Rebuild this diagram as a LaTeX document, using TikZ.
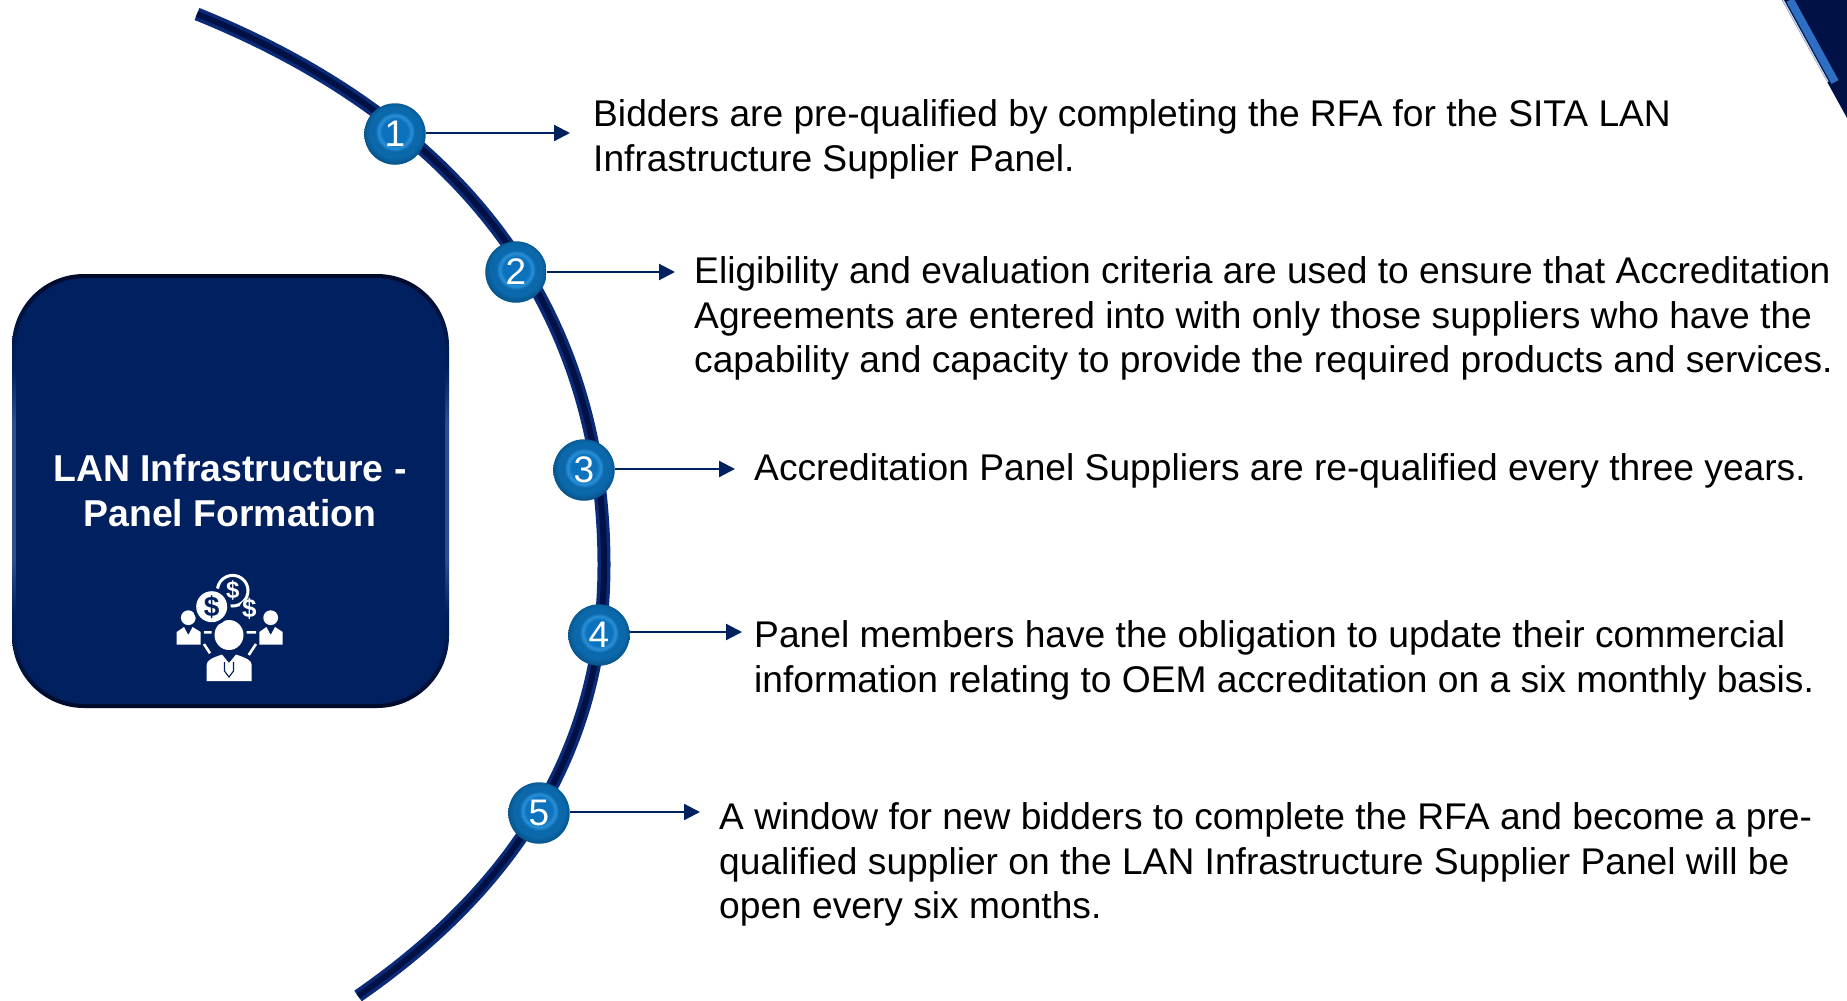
\documentclass[tikz,border=0pt]{standalone}
\usepackage{fontspec}
\setmainfont{Liberation Sans}
\usetikzlibrary{arrows.meta,calc}
\definecolor{navy}{HTML}{002060}
\definecolor{arcblue}{HTML}{0B2A78}
\definecolor{arcdark}{HTML}{001245}
\definecolor{ba}{HTML}{0C72BE}
\definecolor{bb}{HTML}{2A90D8}
\definecolor{bc}{HTML}{0A68AB}
\definecolor{bd}{HTML}{075388}
\definecolor{be}{HTML}{064A7A}
\definecolor{ea}{HTML}{000A2A}
\definecolor{ed}{HTML}{2E4D90}
\definecolor{cornerblue}{HTML}{2E6FC4}
\definecolor{cornerpale}{HTML}{C4D8F0}
\pgfdeclareradialshading{ballshade}{\pgfpoint{0bp}{2.5bp}}{
  color(0bp)=(ba);
  color(10.5bp)=(ba);
  color(13.5bp)=(bb);
  color(16bp)=(bc);
  color(21bp)=(bc);
  color(26bp)=(bd);
  color(50bp)=(be)}
\pgfdeclareverticalshading{bevelshade}{100bp}{
  color(0bp)=(ea);
  color(25bp)=(ea);
  color(36bp)=(navy);
  color(42bp)=(ed);
  color(58bp)=(ed);
  color(64bp)=(navy);
  color(75bp)=(ea);
  color(100bp)=(ea)}
\tikzset{
  x=1pt,y=-1pt,
  ball/.style={circle,minimum size=61.5pt,inner sep=0pt,shading=ballshade,text=white,font=\fontsize{37}{37}\selectfont},
  body/.style={anchor=north west,inner sep=0pt,align=left,font=\fontsize{37.17}{44.9}\selectfont,text=black},
  link/.style={navy,line width=2.2pt,-{Triangle[length=16pt,width=16pt]}},
  iconfill/.style={fill=white,draw=none},
  iconline/.style={white,line width=2.6pt},
  coinmark/.style={inner sep=0pt},
}
\begin{document}
\begin{tikzpicture}
\useasboundingbox (0,0) rectangle (1847,1001);
% corner decoration
\fill[arcdark] (1782,0) -- (1847,118) -- (1847,0) -- cycle;
\draw[cornerblue,line width=8pt] (1790,0) -- (1835,82);
\draw[cornerpale,line width=1.5pt] (1783,0) -- (1828,82);
% arc
\draw[arcblue,line width=13pt] (197,14) .. controls (447,115) and (604,295) .. (604,565) .. controls (604,720) and (540,870) .. (358,996);
\draw[arcdark,line width=6pt] (197,14) .. controls (447,115) and (604,295) .. (604,565) .. controls (604,720) and (540,870) .. (358,996);
% panel
\shade[shading=bevelshade,rounded corners=72pt] (12,274) rectangle (449,708);
\fill[navy,rounded corners=69pt] (16,278) rectangle (445,704);
\node (title) at (230,491) [align=center,text=white,inner sep=0pt,font=\bfseries\fontsize{37.4}{45}\selectfont] {LAN Infrastructure -\\Panel Formation};
% icon: people
\fill[iconfill] (229,635) ellipse [x radius=14.5,y radius=15];
\fill[iconfill] (206.7,681) -- (206.7,665) .. controls (206.7,660) and (212,658) .. (222,654.5) -- (229,663) -- (236,654.5) .. controls (246,658) and (251.7,660) .. (251.7,665) -- (251.7,681) -- cycle;
\fill[navy] (229,659) circle [radius=2.4];
\draw[navy,line width=1.1pt] (224.5,662) -- (224.5,671) -- (229,677) -- (233.5,671) -- (233.5,662);
\fill[iconfill] (188.3,617.7) circle [radius=7.4];
\fill[iconfill] (176.7,644.5) -- (176.7,632) -- (184,627) -- (188.3,635) -- (192.6,627) -- (200.7,632) -- (200.7,644.5) -- cycle;
\fill[iconfill] (270.7,617.7) circle [radius=7.4];
\fill[iconfill] (259.3,644.5) -- (259.3,632) -- (266.4,627) -- (270.7,635) -- (275,627) -- (282.7,632) -- (282.7,644.5) -- cycle;
\draw[iconline] (204,632.3) -- (211.7,632.3) (246.7,632.3) -- (256,632.3) (204,644) -- (210,653.3) (256,644) -- (248.7,655);
% icon: coins
\draw[white,line width=3pt] (232.7,590.7) circle [radius=15.3];
\node (coinb) at (232.7,590.5) [coinmark,text=white,font=\bfseries\fontsize{24}{24}\selectfont] {\$};
\fill[navy] (211.7,606.7) circle [radius=19];
\fill[navy] (249.3,609.3) circle [radius=10];
\fill[iconfill] (211.7,606.7) circle [radius=15.5];
\node (coina) at (211.7,606.7) [coinmark,text=navy,font=\bfseries\fontsize{28}{28}\selectfont] {\$};
\node (coinc) at (249.3,609.3) [coinmark,text=white,font=\bfseries\fontsize{26}{26}\selectfont] {\$};
% text blocks
\node[body] (t1) at (593,99) {Bidders are pre-qualified by completing the RFA for the SITA LAN\\Infrastructure Supplier Panel.};
\node[body] (t2) at (694,256) {Eligibility and evaluation criteria are used to ensure that Accreditation\\Agreements are entered into with only those suppliers who have the\\capability and capacity to provide the required products and services.};
\node[body] (t3) at (754,453) {Accreditation Panel Suppliers are re-qualified every three years.};
\node[body] (t4) at (754,620) {Panel members have the obligation to update their commercial\\information relating to OEM accreditation on a six monthly basis.};
\node[body] (t5) at (719,802) {A window for new bidders to complete the RFA and become a pre-\\qualified supplier on the LAN Infrastructure Supplier Panel will be\\open every six months.};
% markers
\node[ball] (b1) at (395,134) {1};
\node[ball] (b2) at (516,272) {2};
\node[ball] (b3) at (584,470) {3};
\node[ball] (b4) at (599,635) {4};
\node[ball] (b5) at (539,813) {5};
\coordinate (e1) at (570,133);
\coordinate (e2) at (675,272);
\coordinate (e3) at (735,469);
\coordinate (e4) at (742,632);
\coordinate (e5) at (700,812);
\draw[link] (b1.east |- e1) -- (e1);
\draw[link] (b2.east |- e2) -- (e2);
\draw[link] (b3.east |- e3) -- (e3);
\draw[link] (b4.east |- e4) -- (e4);
\draw[link] (b5.east |- e5) -- (e5);
\end{tikzpicture}
\end{document}
